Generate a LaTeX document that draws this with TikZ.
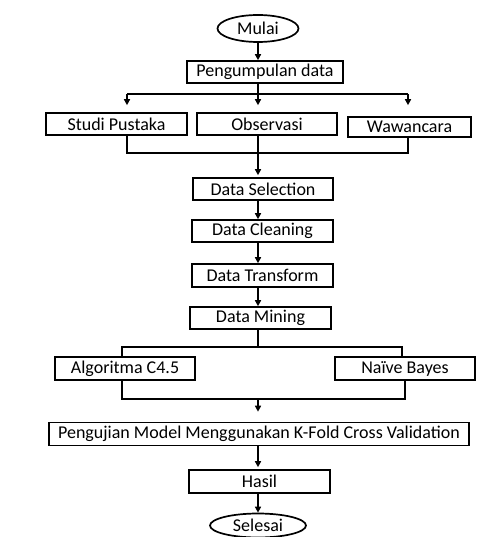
\documentclass[tikz,border=0pt]{standalone}
\usepackage{fontspec}
\setmainfont{Carlito}
\usetikzlibrary{arrows.meta,shapes.geometric}
\begin{document}
\begin{tikzpicture}[x=1pt,y=-1pt,
  every node/.style={font=\fontsize{18}{20}\selectfont, inner sep=0pt},
  box/.style={draw, line width=1.6pt, rectangle, minimum height=22pt},
  term/.style={draw, line width=1.7pt, ellipse},
  conn/.style={line width=1.6pt},
  arr/.style={conn, -{Triangle[length=6pt,width=6pt]}}]
\useasboundingbox (0,0) rectangle (480,537);
\coordinate (mx) at (258,0);
\node[term, minimum width=81pt, minimum height=27pt] (mulai) at (258,28.5) {Mulai};
\node[box, minimum width=156pt] (pd) at (265,72) {Pengumpulan data};
\node[box, minimum width=141pt] (sp) at (116.5,124) {Studi Pustaka};
\node[box, minimum width=140pt] (ob) at (267,124) {Observasi};
\node[box, minimum width=123pt, minimum height=20pt] (ww) at (409.5,127) {Wawancara};
\node[box, minimum width=140pt] (ds) at (263,189) {Data Selection};
\node[box, minimum width=141pt] (dc) at (262.5,231) {Data Cleaning};
\node[box, minimum width=141pt, minimum height=23pt] (dt) at (262.5,275.5) {Data Transform};
\node[box, minimum width=141pt] (dm) at (260.5,318) {Data Mining};
\node[box, minimum width=140pt, minimum height=23pt] (alg) at (125,368.5) {Algoritma C4.5};
\node[box, minimum width=140pt, minimum height=23pt] (nb) at (405,368.5) {Naïve Bayes};
\node[box, minimum width=420pt, minimum height=23pt] (uji) at (259,434) {Pengujian Model Menggunakan K-Fold Cross Validation};
\node[box, minimum width=141pt, minimum height=23pt] (hs) at (259.5,481.5) {Hasil};
\node[term, minimum width=96pt, minimum height=24pt] (selesai) at (258,525.5) {Selesai};
% junction coordinates
\coordinate (ja) at (258,94);
\coordinate (jal) at (127,94);
\coordinate (jar) at (408,94);
\coordinate (jb) at (258,153);
\coordinate (jbl) at (127,153);
\coordinate (jbr) at (408,153);
\coordinate (jc) at (258,347);
\coordinate (jcl) at (122,347);
\coordinate (jcr) at (402,347);
\coordinate (jd) at (258,399);
\coordinate (jdl) at (122,399);
\coordinate (jdr) at (405,399);
% connectors
\draw[arr] (mulai.south) -- (pd.north -| mx);
\draw[arr, shorten >=7pt] (pd.south -| mx) -- (ob.north -| mx);
\draw[conn] (jal) -- (jar);
\draw[arr, shorten >=7pt] (jal) -- (sp.north -| jal);
\draw[arr, shorten >=11pt] (jar) -- (ww.north -| jar);
\draw[conn] (sp.south -| jbl) -- (jbl) -- (jbr) -- (ww.south -| jbr);
\draw[arr, shorten >=2pt] (ob.south -| mx) -- (ds.north -| mx);
\draw[arr] (ds.south -| mx) -- (dc.north -| mx);
\draw[arr] (dc.south -| mx) -- (dt.north -| mx);
\draw[arr] (dt.south -| mx) -- (dm.north -| mx);
\draw[conn] (dm.south -| mx) -- (jc);
\draw[conn] (alg.north -| jcl) -- (jcl) -- (jcr) -- (nb.north -| jcr);
\draw[conn] (alg.south -| jdl) -- (jdl) -- (jdr) -- (nb.south -| jdr);
\draw[arr, shorten >=10pt] (jd) -- (uji.north -| mx);
\draw[arr, shorten >=2pt] (uji.south -| mx) -- (hs.north -| mx);
\draw[arr] (hs.south -| mx) -- (selesai.north);
\end{tikzpicture}
\end{document}
